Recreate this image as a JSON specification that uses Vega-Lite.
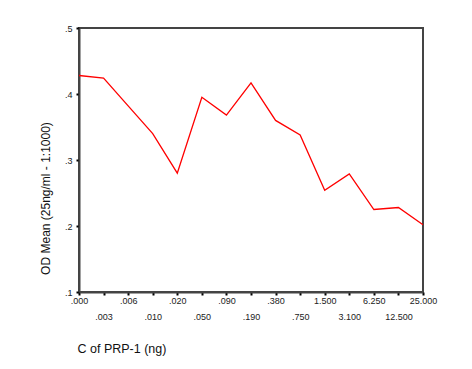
{
  "$schema": "https://vega.github.io/schema/vega-lite/v6.json",
  "autosize": "none",
  "width": 344,
  "height": 264,
  "padding": {"left": 79, "top": 28, "right": 49, "bottom": 77},
  "background": "white",
  "config": {
    "view": {"stroke": "#444444", "strokeWidth": 2},
    "font": "Liberation Sans"
  },
  "data": {
    "values": [
      {"conc": ".000", "od": 0.428},
      {"conc": ".003", "od": 0.424},
      {"conc": ".006", "od": 0.382},
      {"conc": ".010", "od": 0.340},
      {"conc": ".020", "od": 0.280},
      {"conc": ".050", "od": 0.395},
      {"conc": ".090", "od": 0.368},
      {"conc": ".190", "od": 0.417},
      {"conc": ".380", "od": 0.360},
      {"conc": ".750", "od": 0.338},
      {"conc": "1.500", "od": 0.254},
      {"conc": "3.100", "od": 0.279},
      {"conc": "6.250", "od": 0.225},
      {"conc": "12.500", "od": 0.228},
      {"conc": "25.000", "od": 0.202}
    ]
  },
  "mark": {"type": "line", "color": "#ff0000", "strokeWidth": 1.3},
  "encoding": {
    "x": {
      "field": "conc",
      "type": "ordinal",
      "sort": null,
      "scale": {"type": "point", "padding": 0},
      "axis": {
        "title": "C of PRP-1 (ng)",
        "labelAngle": 0,
        "labelExpr": "indexof(['.003','.010','.050','.190','.750','3.100','12.500'], datum.value) >= 0 ? ['', datum.value] : datum.value",
        "labelFontSize": 9,
        "labelLineHeight": 16,
        "labelPadding": 1,
        "labelBaseline": "top",
        "labelColor": "#222222",
        "labelOverlap": false,
        "tickSize": 3,
        "tickWidth": 2,
        "tickColor": "black",
        "domainColor": "#444444",
        "domainWidth": 2,
        "titleX": -2,
        "titleY": 56,
        "titleAlign": "left",
        "titleBaseline": "middle",
        "titleFontSize": 12.5,
        "titleFontWeight": "normal",
        "titleColor": "#111111"
      }
    },
    "y": {
      "field": "od",
      "type": "quantitative",
      "scale": {"domain": [0.1, 0.5], "nice": false, "zero": false},
      "axis": {
        "values": [0.1, 0.2, 0.3, 0.4, 0.5],
        "labelExpr": "replace(format(datum.value, '.1f'), '0.', '.')",
        "grid": false,
        "labelFontSize": 9,
        "labelPadding": 4,
        "labelColor": "#222222",
        "tickSize": 3,
        "tickWidth": 2,
        "tickColor": "black",
        "domainColor": "#444444",
        "domainWidth": 2,
        "title": "OD Mean (25ng/ml - 1:1000)",
        "titleX": -34,
        "titleY": 170,
        "titleAngle": -90,
        "titleAlign": "center",
        "titleBaseline": "middle",
        "titleFontSize": 12,
        "titleFontWeight": "normal",
        "titleColor": "#111111"
      }
    }
  }
}
